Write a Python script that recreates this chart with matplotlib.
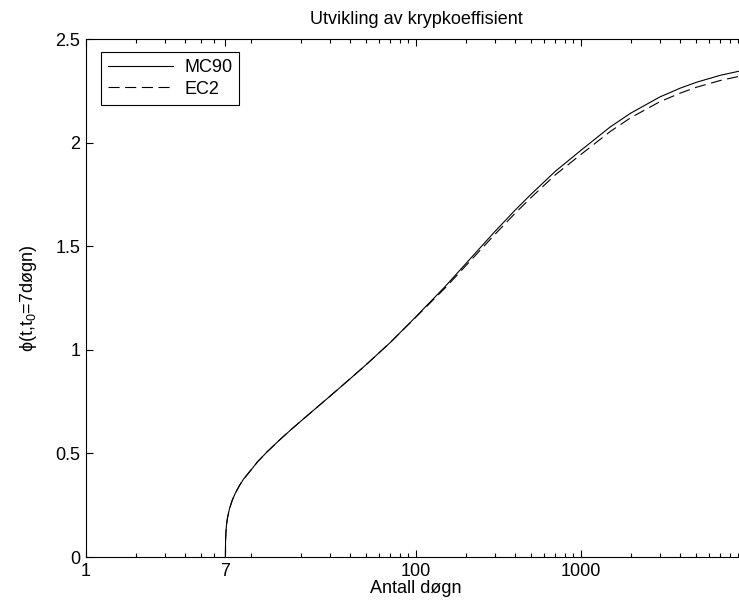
import numpy as np
import matplotlib
matplotlib.use('Agg')
import matplotlib.pyplot as plt
from matplotlib.ticker import FixedLocator, NullFormatter

plt.rcParams['font.family'] = ['Liberation Sans', 'DejaVu Sans']
plt.rcParams['mathtext.fontset'] = 'custom'
plt.rcParams['mathtext.rm'] = 'Liberation Sans'
plt.rcParams['mathtext.it'] = 'Liberation Sans'

# days after casting (t0 = 7)
t_days = [7, 7.01, 7.05, 7.1, 7.2, 7.4, 7.7, 8, 8.5, 9, 10, 11, 12.5, 15, 17.5,
          20, 25, 30, 40, 50, 70, 100, 150, 200, 300, 400, 500, 700, 1000,
          1500, 2000, 3000, 4000, 5000, 7000, 10000]
phi_mc90 = [0, 0.077, 0.12, 0.153, 0.188, 0.232, 0.274, 0.305, 0.344, 0.375,
            0.42, 0.461, 0.507, 0.567, 0.615, 0.655, 0.721, 0.775, 0.861,
            0.929, 1.036, 1.16, 1.305, 1.415, 1.57, 1.675, 1.752, 1.862,
            1.963, 2.075, 2.142, 2.220, 2.263, 2.291, 2.325, 2.352]
phi_ec2 = [0, 0.077, 0.12, 0.153, 0.188, 0.232, 0.274, 0.305, 0.344, 0.375,
           0.42, 0.461, 0.507, 0.567, 0.615, 0.655, 0.721, 0.775, 0.861,
           0.929, 1.036, 1.158, 1.298, 1.405, 1.556, 1.660, 1.736, 1.845,
           1.943, 2.053, 2.120, 2.197, 2.239, 2.267, 2.300, 2.327]

xticks = [1, 7, 100, 1000]
xticklabels = ['1', '7', '100', '1000']
yticks = [0, 0.5, 1, 1.5, 2, 2.5]
yticklabels = ['0', '0.5', '1', '1.5', '2', '2.5']

fig = plt.figure(figsize=(7.39, 6.14), dpi=100)
# axes run a little past the right edge, as in the original export
ax = fig.add_axes([86 / 739, 57 / 614, 660 / 739, 518 / 614])

ax.plot(t_days, phi_mc90, color='black', lw=0.8, label='MC90')
ax.plot(t_days, phi_ec2, color='black', lw=0.8, dashes=(10, 5), label='EC2')

ax.set_xscale('log')
ax.set_xlim(1, 10000)
ax.set_ylim(0, 2.5)
ax.set_xticks(xticks)
ax.set_xticklabels(xticklabels)
minor = [m * d for d in (1, 10, 100, 1000) for m in range(2, 10)]
minor = [v for v in minor if v not in (7, 8, 9)] + [10, 10000]
ax.xaxis.set_minor_locator(FixedLocator(minor))
ax.xaxis.set_minor_formatter(NullFormatter())
ax.set_yticks(yticks)
ax.set_yticklabels(yticklabels)

ax.tick_params(which='both', direction='in', top=True, right=True,
               width=0.8, labelsize=13, pad=4)
ax.tick_params(which='major', length=5)
ax.tick_params(which='minor', length=3)
for s in ax.spines.values():
    s.set_linewidth(0.8)

ax.set_title('Utvikling av krypkoeffisient', fontsize=13, pad=11)
ax.set_xlabel('Antall døgn', fontsize=13, labelpad=0)
ax.set_ylabel('ϕ(t,t$_0$=7døgn)', fontsize=13, labelpad=12)

leg = ax.legend(loc='upper left', bbox_to_anchor=(0.0227, 0.975),
                borderaxespad=0, fontsize=13, handlelength=3.6,
                handletextpad=0.6, fancybox=False, framealpha=1,
                edgecolor='black', borderpad=0.4, labelspacing=0.25)
leg.get_frame().set_linewidth(0.8)

fig.savefig('out.png', dpi=100)
